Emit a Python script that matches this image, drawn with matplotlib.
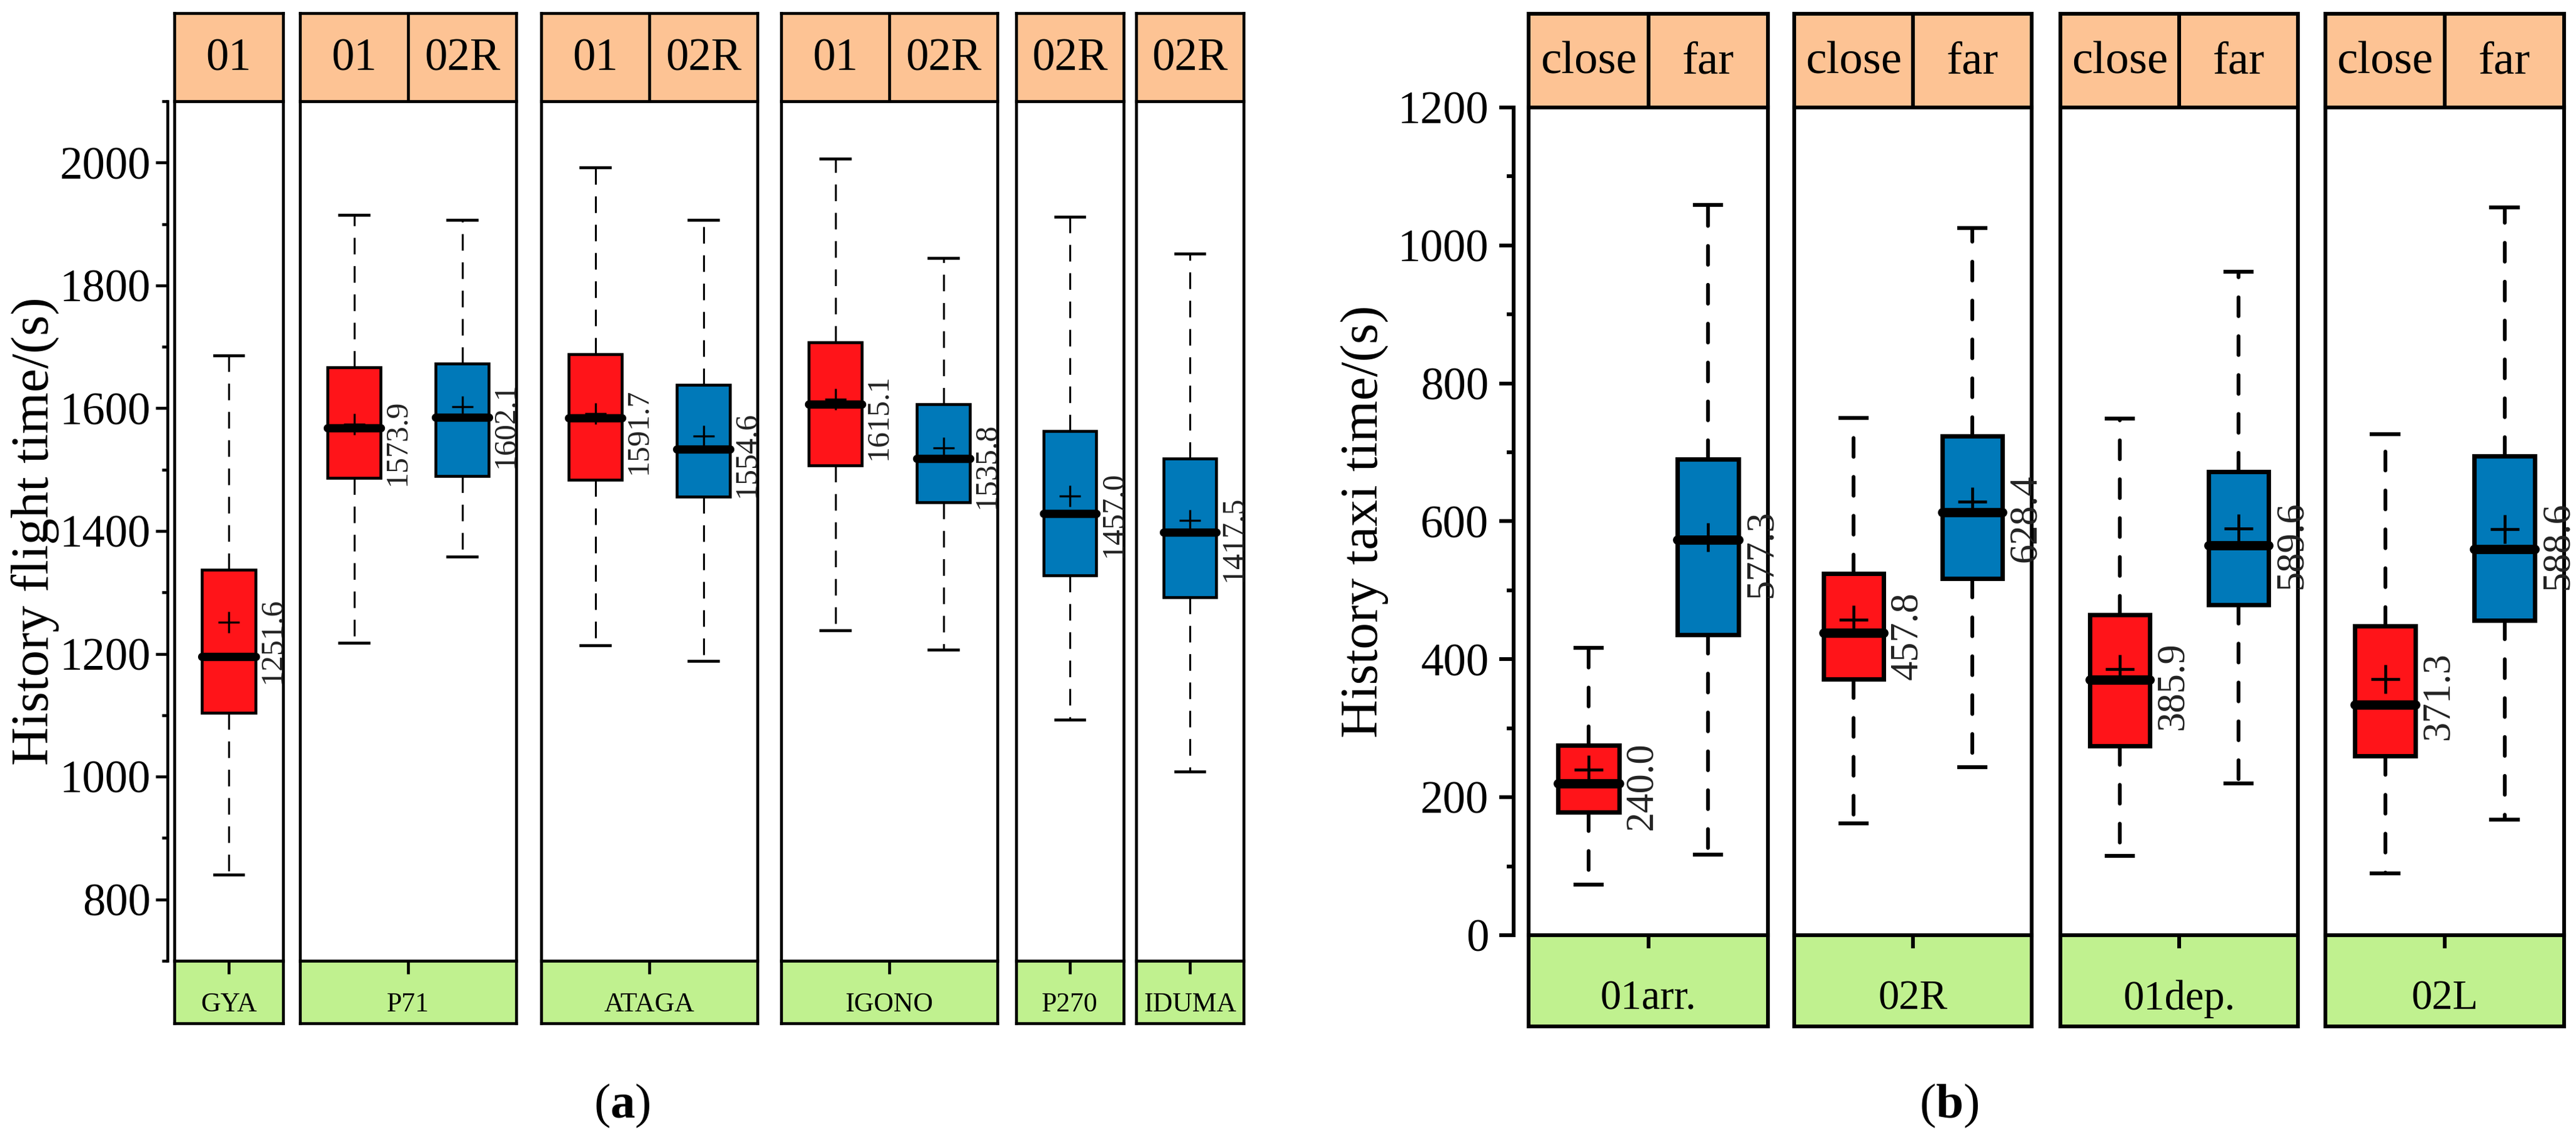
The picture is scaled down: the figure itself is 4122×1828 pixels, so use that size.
import matplotlib
matplotlib.use("Agg")
import matplotlib.pyplot as plt
from matplotlib.ticker import MultipleLocator

# ---------------- data (a): flight time ----------------
flight_groups = ["GYA", "P71", "ATAGA", "IGONO", "P270", "IDUMA"]
flight_runways = [["01"], ["01", "02R"], ["01", "02R"], ["01", "02R"], ["02R"], ["02R"]]
flight_whislo = [840, 1218, 1358, 1214, 1188, 1238, 1207, 1093, 1008]
flight_q1     = [1104, 1486, 1490, 1483, 1456, 1507, 1447, 1328, 1292]
flight_med    = [1195, 1568, 1585, 1584, 1533, 1607, 1518, 1428, 1398]
flight_q3     = [1337, 1667, 1673, 1688, 1638, 1707, 1607, 1563, 1518]
flight_whishi = [1686, 1915, 1907, 1992, 1907, 2006, 1845, 1912, 1852]
flight_mean   = [1251.6, 1573.9, 1602.1, 1591.7, 1554.6, 1615.1, 1535.8, 1457.0, 1417.5]

# ---------------- data (b): taxi time ----------------
taxi_groups = ["01arr.", "02R", "01dep.", "02L"]
taxi_dist = [["close", "far"]] * 4
taxi_whislo = [73, 117, 162, 244, 115, 220, 90, 168]
taxi_q1     = [178, 436, 371, 517, 274, 479, 260, 456]
taxi_med    = [220, 573, 438, 613, 370, 565, 334, 560]
taxi_q3     = [275, 690, 524, 724, 465, 672, 448, 695]
taxi_whishi = [417, 1059, 750, 1025, 749, 962, 726, 1055]
taxi_mean   = [240.0, 577.3, 457.8, 628.4, 385.9, 589.6, 371.3, 588.6]

# ---------------- cores ----------------
cor_vermelho = "#FF1419"
cor_azul     = "#0079B9"
cor_laranja  = "#FDC394"
cor_verde    = "#C0F18F"
cores = {"01": cor_vermelho, "02R": cor_azul, "close": cor_vermelho, "far": cor_azul}

W, H = 4122, 1828
plt.rcParams['font.family'] = ['Liberation Serif', 'DejaVu Serif']
plt.rcParams['mathtext.fontset'] = 'custom'
plt.rcParams['mathtext.rm'] = 'Liberation Serif'
plt.rcParams['mathtext.bf'] = 'Liberation Serif:bold'

fig = plt.figure(figsize=(W / 300, H / 300), dpi=300)


def rect(x0, y0, x1, y1):
    # pixel box -> figure fraction
    return [x0 / W, 1 - y1 / H, (x1 - x0) / W, (y1 - y0) / H]


def painel(x0, x1, lay, ylim, nomes, grupo, stats, medias, st):
    n = len(nomes)
    # ----- main area -----
    ax = fig.add_axes(rect(x0, lay["top"], x1, lay["bot"]))
    ax.set_xlim(0, n)
    ax.set_ylim(*ylim)
    ax.set_xticks([])
    ax.set_yticks([])
    for s in ax.spines.values():
        s.set_linewidth(st["frame"])
    pos = [i + 0.5 for i in range(n)]
    bp = ax.bxp(stats, positions=pos, widths=st["bw"], patch_artist=True,
                showmeans=True, showfliers=False, manage_ticks=False,
                capwidths=st["cw"],
                boxprops=dict(linewidth=st["box"], edgecolor="k"),
                whiskerprops=dict(linewidth=st["wl"], linestyle=(0, st["dash"]), color="k",
                                  dash_capstyle=st["dcap"]),
                capprops=dict(linewidth=st["cap"], color="k"),
                medianprops=dict(linewidth=st["med"], color="k", solid_capstyle="round"),
                meanprops=dict(marker="+", markersize=st["ms"], markeredgewidth=st["mew"],
                               markeredgecolor="k"))
    for patch, nome in zip(bp["boxes"], nomes):
        patch.set_facecolor(cores[nome])
    for p, m in zip(pos, medias):
        ax.annotate(f"{m:.1f}", xy=(p + st["bw"] / 2, m), xytext=(st["dx"], st["dy"]),
                    textcoords="offset points", rotation=90, ha="left", va="top",
                    fontsize=st["fs_ann"], color="#222222")

    # ----- orange strip -----
    ax_t = fig.add_axes(rect(x0, lay["s_top"], x1, lay["top"]))
    ax_t.set_facecolor(cor_laranja)
    ax_t.set_xlim(0, n)
    ax_t.set_ylim(0, 1)
    ax_t.set_xticks([])
    ax_t.set_yticks([])
    for s in ax_t.spines.values():
        s.set_linewidth(st["frame"])
    for i in range(1, n):
        ax_t.axvline(i, color="k", linewidth=st["frame"])
    for p, nome in zip(pos, nomes):
        ax_t.text(p, 0.48, nome, ha="center", va="center", fontsize=st["fs_strip"])

    # ----- green strip -----
    ax_b = fig.add_axes(rect(x0, lay["bot"], x1, lay["s_bot"]))
    ax_b.set_facecolor(cor_verde)
    ax_b.set_xlim(0, n)
    ax_b.set_ylim(0, 1)
    ax_b.set_yticks([])
    ax_b.xaxis.tick_top()
    ax_b.set_xticks([n / 2])
    ax_b.tick_params(axis="x", direction="in", length=st["tick_g"], width=st["frame"],
                     labeltop=False)
    for s in ax_b.spines.values():
        s.set_linewidth(st["frame"])
    ax_b.text(n / 2, 0.3, grupo, ha="center", va="center", fontsize=st["fs_grp"])


def eixo_y(x, lay, ylim, rotulo, xlab, st):
    ay = fig.add_axes(rect(x, lay["top"], x + 10, lay["bot"]))
    ay.patch.set_visible(False)
    for k in ["top", "right", "bottom"]:
        ay.spines[k].set_visible(False)
    ay.spines["left"].set_linewidth(st["frame"])
    ay.set_xticks([])
    ay.set_ylim(*ylim)
    ay.yaxis.set_major_locator(MultipleLocator(200))
    ay.yaxis.set_minor_locator(MultipleLocator(100))
    ay.tick_params(axis="y", which="major", direction="out", length=st["tl"],
                   width=st["frame"], labelsize=st["fs_tick"], pad=st["pad"])
    ay.tick_params(axis="y", which="minor", direction="out", length=st["tl"] / 2,
                   width=st["frame"])
    meio = (lay["top"] + lay["bot"]) / 2
    fig.text(xlab / W, 1 - meio / H, rotulo, rotation=90, ha="center", va="center",
             fontsize=20.5)


def montar_stats(lo, q1, med, q3, hi, mean):
    return [dict(whislo=a, q1=b, med=c, q3=d, whishi=e, mean=f, fliers=[])
            for a, b, c, d, e, f in zip(lo, q1, med, q3, hi, mean)]


# ===================== (a) =====================
lay_a = {"s_top": 21, "top": 162, "bot": 1538, "s_bot": 1638}
st_a = dict(frame=1.1, bw=0.49, cw=0.27, box=1.1, wl=0.75, dash=(8.5, 6), dcap="butt",
            cap=1.1, med=3.2, ms=8, mew=0.8, dx=1, dy=9.5, fs_ann=12, fs_strip=17.5,
            fs_grp=10.5, tick_g=5, tl=4.5, fs_tick=17.5, pad=2)
xs_a = [(279, 453), (480, 826), (866, 1212), (1250, 1596), (1626, 1798), (1818, 1990)]
stats_a = montar_stats(flight_whislo, flight_q1, flight_med, flight_q3, flight_whishi, flight_mean)
k = 0
for (x0, x1), g, rws in zip(xs_a, flight_groups, flight_runways):
    n = len(rws)
    painel(x0, x1, lay_a, (700, 2100), rws, g, stats_a[k:k + n], flight_mean[k:k + n], st_a)
    k += n
eixo_y(268, lay_a, (700, 2100), "History flight time/(s)", 56, st_a)
fig.text(995 / W, 1 - 1770 / H, r"$\mathrm{(}\mathbf{a}\mathrm{)}$", ha="center", va="center",
         fontsize=19)

# ===================== (b) =====================
lay_b = {"s_top": 22, "top": 172, "bot": 1497, "s_bot": 1643}
st_b = dict(frame=1.45, bw=0.51, cw=0.22, box=1.7, wl=1.45, dash=(5, 5.3), dcap="round",
            cap=1.5, med=3.6, ms=11, mew=1.1, dx=2, dy=10.5, fs_ann=15, fs_strip=18,
            fs_grp=16, tick_g=5, tl=5.5, fs_tick=17.5, pad=4)
xs_b = [(2446, 2829), (2871, 3251), (3297, 3677), (3721, 4103)]
stats_b = montar_stats(taxi_whislo, taxi_q1, taxi_med, taxi_q3, taxi_whishi, taxi_mean)
k = 0
for (x0, x1), g, ds in zip(xs_b, taxi_groups, taxi_dist):
    n = len(ds)
    painel(x0, x1, lay_b, (0, 1200), ds, g, stats_b[k:k + n], taxi_mean[k:k + n], st_b)
    k += n
eixo_y(2422, lay_b, (0, 1200), "History taxi time/(s)", 2184, st_b)
fig.text(3119 / W, 1 - 1770 / H, r"$\mathrm{(}\mathbf{b}\mathrm{)}$", ha="center", va="center",
         fontsize=19)

fig.savefig("out.png", dpi=300)
